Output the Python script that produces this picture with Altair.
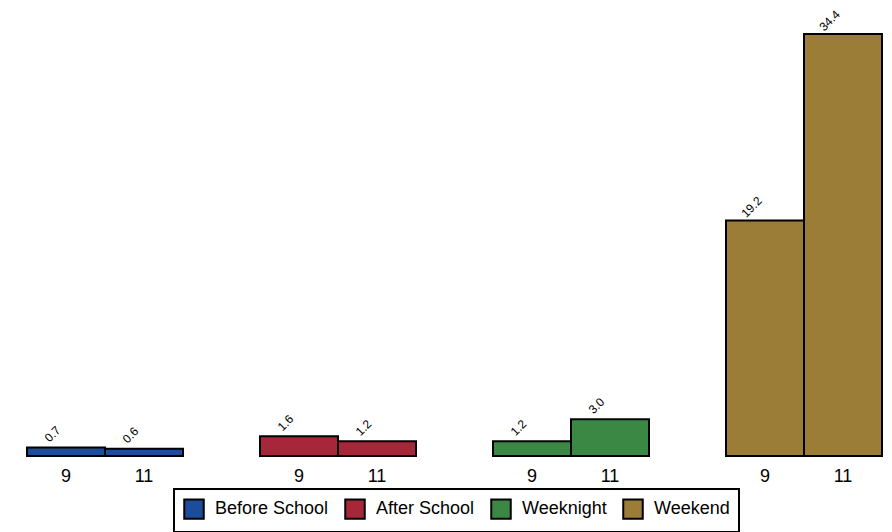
import altair as alt
import pandas as pd

categories = ["Before School", "After School", "Weeknight", "Weekend"]
grades = ["9", "11"]
values_9 = [0.7, 1.6, 1.2, 19.2]
values_11 = [0.6, 1.2, 3.0, 34.4]
colors = ["#1c4c9c", "#a8263a", "#3a8844", "#9b7d37"]

rows = []
for c, v9, v11 in zip(categories, values_9, values_11):
    rows.append({"cat": c, "grade": "9", "val": v9})
    rows.append({"cat": c, "grade": "11", "val": v11})
df = pd.DataFrame(rows)

FONT = "Liberation Sans"

base = alt.Chart(df).encode(
    x=alt.X("grade:N", sort=grades, title=None,
            scale=alt.Scale(paddingInner=0, paddingOuter=0),
            axis=alt.Axis(ticks=False, domain=False, labelAngle=0, labelFontSize=18,
                          labelFont=FONT, labelColor="#000", labelPadding=10)),
    y=alt.Y("val:Q", title=None, scale=alt.Scale(domain=[0, 36.44], nice=False),
            axis=None),
)

bars = base.mark_bar(stroke="#000", strokeWidth=2).encode(
    color=alt.Color("cat:N", sort=categories, title=None,
                    scale=alt.Scale(domain=categories, range=colors),
                    legend=alt.Legend(orient="none", legendX=147, legendY=480,
                                      direction="horizontal", symbolType="square",
                                      symbolSize=380, symbolStrokeColor="#000",
                                      symbolStrokeWidth=2, symbolOpacity=1,
                                      labelFontSize=18, labelFont=FONT, labelColor="#000",
                                      labelOffset=10, columnPadding=12, padding=9,
                                      strokeColor="#000", fillColor="#fff",
                                      labelLimit=300))
)

labels = base.mark_text(angle=315, align="center", baseline="middle", dy=-19,
                        fontSize=12, font=FONT, color="#000").encode(
    text=alt.Text("val:Q", format=".1f")
)

chart = alt.layer(bars, labels).properties(width=156, height=447).facet(
    column=alt.Column("cat:N", sort=categories, title=None,
                      header=alt.Header(title=None, labels=False))
).properties(
    spacing=75,
    padding={"left": 18, "top": 0, "right": 0, "bottom": 0},
).configure_view(stroke=None).configure_legend(strokeWidth=2)

chart.save("out.html", embed_options={"renderer": "svg", "actions": False})
